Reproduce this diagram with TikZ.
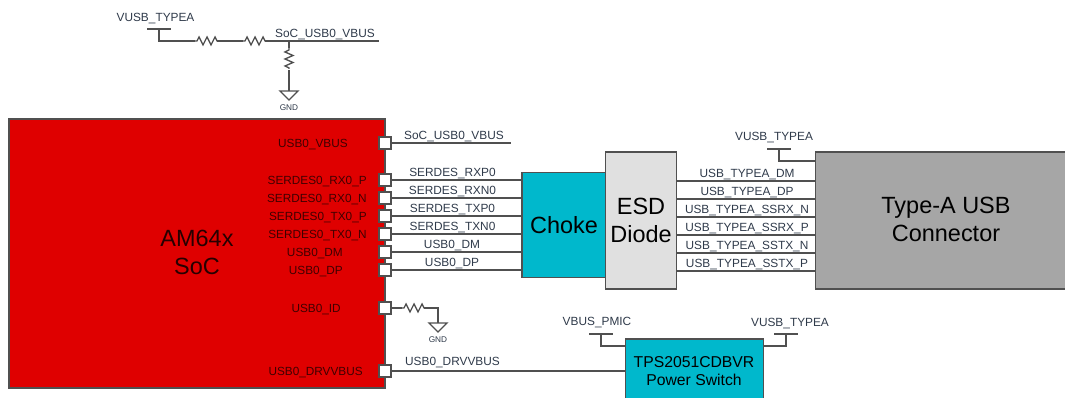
\documentclass[tikz,border=0pt]{standalone}
\usepackage{fontspec}
\setmainfont{Liberation Sans}
\definecolor{socred}{HTML}{DF0000}
\definecolor{chipteal}{HTML}{00B8CC}
\definecolor{esdgray}{HTML}{E0E0E0}
\definecolor{conngray}{HTML}{A6A6A6}
\definecolor{wiregray}{HTML}{505050}
\definecolor{labelblue}{HTML}{2F3A4A}
\definecolor{pinred}{HTML}{400000}
\tikzset{
	wire/.style={draw=wiregray,line width=1pt},
	block/.style={draw=wiregray,line width=1pt,inner sep=0pt,align=center,font=\fontsize{17.6}{21}\selectfont},
	bigtext/.style={inner sep=0pt,align=center,font=\fontsize{17.6}{21}\selectfont},
	pinbox/.style={draw=wiregray,fill=white,line width=1pt,minimum size=9pt,inner sep=0pt},
	pinlabel/.style={inner sep=0pt,yshift=-1.2pt,text=pinred,font=\fontsize{8.85}{10}\selectfont},
	netlabel/.style={inner sep=0pt,yshift=-1.2pt,text=labelblue,font=\fontsize{8.9}{10}\selectfont},
	gndlabel/.style={inner sep=0pt,text=labelblue,font=\fontsize{6.2}{8}\selectfont}
}
\newcommand{\pinat}[3]{\node[pinbox] (#1) at (385,#2) {};
	\node[pinlabel,anchor=east] (#1lab) at (#3,#2) {\detokenize{#1}}}
\newcommand{\reshor}[1]{\draw[wire] (#1) --++ (2,0) --++ (2,-4) --++ (4,8) --++ (4,-8) --++ (4,8) --++ (4,-8) --++ (2,4) --++ (2,0)}
\newcommand{\resver}[1]{\draw[wire] (#1) --++ (0,2) --++ (-4,2) --++ (8,3.5) --++ (-8,3.5) --++ (8,3.5) --++ (-8,3.5) --++ (4,2) --++ (0,1)}
\newcommand{\railbar}[1]{\draw[wire] (#1) ++ (-12,0) --++ (24,0)}
\newcommand{\gndsym}[1]{\draw[wire] (#1) ++ (-9,0) --++ (18,0) --++ (-9,9) -- cycle}
\newcommand{\esdlink}[1]{\draw[wire] (esd.east |- 0,#1) -- (usbconn.west |- 0,#1)}

\begin{document}
\begin{tikzpicture}[x=0.75pt,y=-0.75pt]
	\useasboundingbox (0,0) rectangle (1065,398);
%
	\node[block,fill=socred,minimum width=282pt,minimum height=201.75pt] (soc) at (197,253.5) {};
	\node[bigtext,text=black!85!red] (soclab) at (197,252) {AM64x\\SoC};
	\node[block,fill=chipteal,minimum width=63pt,minimum height=78.75pt] (choke) at (564,225) {Choke};
	\node[block,fill=esdgray,minimum width=53pt,minimum height=102.75pt] (esd) at (641,220.5) {ESD\\Diode};
	\node[block,fill=conngray,minimum width=190pt,minimum height=102.75pt,anchor=west] (usbconn) at (815,220.5) {};
	\node[bigtext] (usblab) at (946,219.5) {Type-A USB\\Connector};
	\node[block,fill=chipteal,minimum width=103.5pt,minimum height=60pt,anchor=north west] (tps) at (625,338.5) {};
	\node[bigtext,font=\fontsize{11.8}{13.5}\selectfont] (tpslab) at (694,371) {TPS2051CDBVR\\Power Switch};
%
	\pinat{USB0_VBUS}{143}{348};
	\pinat{SERDES0_RX0_P}{180}{367};
	\pinat{SERDES0_RX0_N}{198}{367};
	\pinat{SERDES0_TX0_P}{216}{367};
	\pinat{SERDES0_TX0_N}{234}{367};
	\pinat{USB0_DM}{252}{343};
	\pinat{USB0_DP}{270}{343};
	\pinat{USB0_ID}{308}{341};
	\pinat{USB0_DRVVBUS}{371}{363};
%
	\coordinate (vbusend) at (511,143);
	\draw[wire] (USB0_VBUS.east) -- (vbusend);
	\draw[wire] (SERDES0_RX0_P.east) -- (choke.west |- SERDES0_RX0_P);
	\draw[wire] (SERDES0_RX0_N.east) -- (choke.west |- SERDES0_RX0_N);
	\draw[wire] (SERDES0_TX0_P.east) -- (choke.west |- SERDES0_TX0_P);
	\draw[wire] (SERDES0_TX0_N.east) -- (choke.west |- SERDES0_TX0_N);
	\draw[wire] (USB0_DM.east) -- (choke.west |- USB0_DM);
	\draw[wire] (USB0_DP.east) -- (choke.west |- USB0_DP);
	\draw[wire] (USB0_DRVVBUS.east) -- (tps.west |- USB0_DRVVBUS);
%
	\node[netlabel] (nvbus) at (454,134.5) {SoC\_USB0\_VBUS};
	\node[netlabel] (nrxp) at (452.5,172) {SERDES\_RXP0};
	\node[netlabel] (nrxn) at (452.5,190) {SERDES\_RXN0};
	\node[netlabel] (ntxp) at (452.5,208) {SERDES\_TXP0};
	\node[netlabel] (ntxn) at (452.5,226) {SERDES\_TXN0};
	\node[netlabel] (ndm) at (452,243.5) {USB0\_DM};
	\node[netlabel] (ndp) at (452,261.5) {USB0\_DP};
	\node[netlabel] (ndrv) at (452.5,361) {USB0\_DRVVBUS};
%
	\esdlink{181};
	\esdlink{199};
	\esdlink{217};
	\esdlink{235};
	\esdlink{253};
	\esdlink{271};
	\node[netlabel] (ntdm) at (747,173) {USB\_TYPEA\_DM};
	\node[netlabel] (ntdp) at (747,191) {USB\_TYPEA\_DP};
	\node[netlabel] (nsrxn) at (747,209) {USB\_TYPEA\_SSRX\_N};
	\node[netlabel] (nsrxp) at (747,227) {USB\_TYPEA\_SSRX\_P};
	\node[netlabel] (nstxn) at (747,245) {USB\_TYPEA\_SSTX\_N};
	\node[netlabel] (nstxp) at (747,263) {USB\_TYPEA\_SSTX\_P};
%
	% rail into the connector
	\coordinate (connrail) at (779,149);
	\railbar{779,149};
	\draw[wire] (connrail) |- (usbconn.west |- 0,161);
	\node[netlabel] (vconn) at (774,136) {VUSB\_TYPEA};
%
	% rails of the power switch
	\coordinate (pmicrail) at (601,334);
	\coordinate (swrail) at (786,334);
	\railbar{601,334};
	\railbar{786,334};
	\draw[wire] (pmicrail) |- (tps.west |- 0,346);
	\draw[wire] (swrail) |- (tps.east |- 0,346);
	\node[netlabel] (vpmic) at (597,321) {VBUS\_PMIC};
	\node[netlabel] (vsw) at (790,322) {VUSB\_TYPEA};
%
	% divider on top
	\coordinate (toprail) at (159,29);
	\coordinate (r1a) at (195,41);
	\coordinate (r1b) at (217,41);
	\coordinate (r2a) at (243,41);
	\coordinate (r2b) at (265,41);
	\coordinate (tap) at (289,41);
	\coordinate (topend) at (379,41);
	\coordinate (r3a) at (289,48);
	\coordinate (r3b) at (289,70);
	\coordinate (gndtop) at (289,91);
	\railbar{159,29};
	\draw[wire] (toprail) |- (r1a);
	\reshor{r1a};
	\draw[wire] (r1b) -- (r2a);
	\reshor{r2a};
	\draw[wire] (r2b) -- (topend);
	\draw[wire] (tap) -- (r3a);
	\resver{r3a};
	\draw[wire] (r3b) -- (gndtop);
	\gndsym{289,91};
	\node[netlabel] (vtop) at (155.5,17) {VUSB\_TYPEA};
	\node[netlabel] (ntop) at (325,32.5) {SoC\_USB0\_VBUS};
	\node[gndlabel] (gndone) at (289,107.5) {GND};
%
	% pull-down on the id pin
	\coordinate (r4a) at (402,308);
	\coordinate (r4b) at (424,308);
	\coordinate (gndid) at (438,323);
	\draw[wire] (USB0_ID.east) -- (r4a);
	\reshor{r4a};
	\draw[wire] (r4b) -| (gndid);
	\gndsym{438,323};
	\node[gndlabel] (gndtwo) at (438,339.5) {GND};
%
\end{tikzpicture}
\end{document}
